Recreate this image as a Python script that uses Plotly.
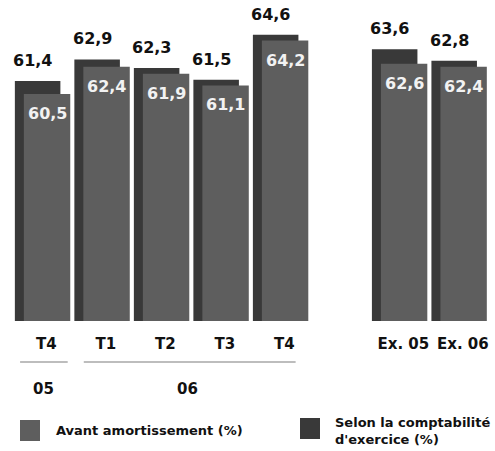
import plotly.graph_objects as go

categories = ["T4", "T1", "T2", "T3", "T4", "", "Ex. 05", "Ex. 06"]
avant = [60.5, 62.4, 61.9, 61.1, 64.2, None, 62.6, 62.4]
selon = [61.4, 62.9, 62.3, 61.5, 64.6, None, 63.6, 62.8]
groups = [("05", -0.38, 0.42), ("06", 0.69, 4.25)]

DARK = "#393939"
LIGHT = "#5e5e5e"
FONT = "DejaVu Sans"

x = list(range(len(categories)))
PLOT_H = 321  # pixel height of plot area


def py(p):
    """pixel y (from top of page) -> paper y"""
    return (PLOT_H - p) / PLOT_H


fig = go.Figure()
fig.add_trace(go.Bar(x=x, y=selon, name="Selon la comptabilité d'exercice (%)",
                     marker=dict(color=DARK, line=dict(width=0)),
                     offset=-0.468, width=0.765, showlegend=False, hoverinfo="skip"))
fig.add_trace(go.Bar(x=x, y=avant, name="Avant amortissement (%)",
                     marker=dict(color=LIGHT, line=dict(width=0)),
                     offset=-0.317, width=0.78, showlegend=False, hoverinfo="skip"))

def fmt(v):
    return f"{v:.1f}".replace(".", ",")

for i, (a, s) in enumerate(zip(avant, selon)):
    if s is not None:
        fig.add_annotation(x=i - 0.17, y=s, text=fmt(s), showarrow=False,
                           yanchor="bottom", yshift=9,
                           font=dict(family=FONT, size=16, color="#111111", weight="bold"))
    if a is not None:
        fig.add_annotation(x=i + 0.073, y=a, text=fmt(a), showarrow=False,
                           yanchor="top", yshift=-8,
                           font=dict(family=FONT, size=16, color="#f2f2f2", weight="bold"))

# group separators and labels
for label, x0, x1 in groups:
    fig.add_shape(type="line", xref="x", yref="paper", x0=x0, x1=x1,
                  y0=py(362), y1=py(362), line=dict(color="#bdbdbd", width=2))
    fig.add_annotation(xref="x", yref="paper", x=(x0 + x1) / 2 if label == "05" else 2.44,
                       y=py(389), text=label, showarrow=False, yanchor="middle",
                       font=dict(family=FONT, size=15, color="#111111", weight="bold"))

# custom legend
legend_items = [(LIGHT, 20, 420, "Avant amortissement (%)", 54, 430),
                (DARK, 300, 418, "Selon la comptabilité<br>d'exercice (%)", 333, 431)]
for color, sx, sy, text, tx, ty in legend_items:
    fig.add_shape(type="rect", xref="paper", yref="paper",
                  x0=(sx - 7) / 485, x1=(sx + 20 - 7) / 485,
                  y0=py(sy), y1=py(sy + 21), fillcolor=color, line=dict(width=0))
    fig.add_annotation(xref="paper", yref="paper", x=(tx - 7) / 485, y=py(ty),
                       text=text, showarrow=False, xanchor="left", yanchor="middle",
                       align="left",
                       font=dict(family=FONT, size=13, color="#111111", weight="bold"))

fig.update_layout(
    width=495, height=451,
    margin=dict(l=7, r=3, t=0, b=130),
    paper_bgcolor="white", plot_bgcolor="white",
    barmode="overlay",
    showlegend=False,
    xaxis=dict(range=[-0.6, 7.55], tickmode="array",
               tickvals=[v + 0.06 for v in x], ticktext=categories,
               showgrid=False, zeroline=False, showline=False,
               ticks="outside", ticklen=9, tickcolor="rgba(0,0,0,0)",
               tickfont=dict(family=FONT, size=15, color="#111111", weight="bold"),
               automargin=False, fixedrange=True),
    yaxis=dict(range=[44.8, 67.01], visible=False, automargin=False, fixedrange=True),
)

fig.write_html("out.html", config={"displayModeBar": False},
               post_script="document.body.style.margin='0';document.body.style.overflow='hidden';")
